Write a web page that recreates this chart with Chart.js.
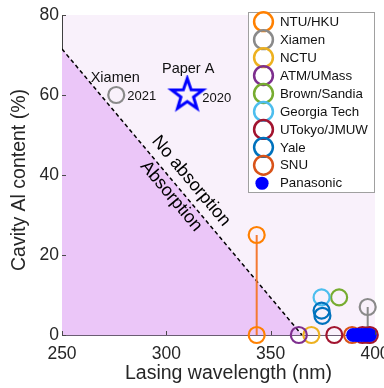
<!DOCTYPE html>
<html>
<head>
<meta charset="utf-8">
<script src="https://cdn.jsdelivr.net/npm/chart.js@4"></script>
<style>
  html, body { margin: 0; padding: 0; background: #ffffff; }
  canvas { display: block; }
</style>
</head>
<body>
<canvas id="chart" width="384" height="388"></canvas>
<script>
// Axis ticks
const xTicks = [250, 300, 350, 400];
const yTicks = [0, 20, 40, 60, 80];

// Groups shown in the legend
const seriesNames = ['NTU/HKU', 'Xiamen', 'NCTU', 'ATM/UMass', 'Brown/Sandia',
  'Georgia Tech', 'UTokyo/JMUW', 'Yale', 'SNU', 'Panasonic'];
const seriesColors = ['#ff8000', '#8a8a8a', '#edb120', '#7e2f8e', '#77ac30',
  '#4dbeee', '#a2142f', '#0072bd', '#d95319', '#0000ff'];

// Lasing wavelength (nm) and cavity Al content (%) per group
const ntuHkuWl = [343.3, 343.3];
const ntuHkuAl = [25, 0];
const xiamenWl = [396.5, 396.5];
const xiamenAl = [7, 0];
const nctuWl = [369.5];
const nctuAl = [0];
const atmUmassWl = [363.5];
const atmUmassAl = [0];
const brownSandiaWl = [382.8];
const brownSandiaAl = [9.4];
const georgiaTechWl = [374.4];
const georgiaTechAl = [9.4];
const utokyoWl = [380.5, 394, 397.5];
const utokyoAl = [0, 0, 0];
const yaleWl = [374.4, 374.8];
const yaleAl = [6.1, 4.8];
const snuWl = [389];
const snuAl = [0];
const panasonicWl = [389.5, 391.5, 393.5, 395.5, 397.5];
const panasonicAl = [0, 0, 0, 0, 0];

// Highlighted works
const xiamen2021Wl = [276];
const xiamen2021Al = [60];
const paperAWl = [310];
const paperAAl = [60];

// Absorption boundary
const boundaryWl = [250, 365];
const boundaryAl = [71.5, 0];

const FONT = '"Liberation Sans", Arial, Helvetica, sans-serif';
const TEXT = '#262626';

const pts = (xs, ys) => xs.map((x, i) => ({ x, y: ys[i] }));

function makeStar(R, r, lw, color) {
  const size = Math.ceil(2 * (R + lw) + 2);
  const c = document.createElement('canvas');
  c.width = size; c.height = size;
  const g = c.getContext('2d');
  g.translate(size / 2, size / 2);
  g.beginPath();
  for (let i = 0; i < 10; i++) {
    const rad = i % 2 === 0 ? R : r;
    const a = -Math.PI / 2 + i * Math.PI / 5;
    const px = rad * Math.cos(a), py = rad * Math.sin(a);
    if (i === 0) g.moveTo(px, py); else g.lineTo(px, py);
  }
  g.closePath();
  g.lineJoin = 'miter';
  g.lineWidth = lw;
  g.strokeStyle = color;
  g.stroke();
  return c;
}
const starImg = makeStar(16.5, 6.6, 3, '#0000ff');

function openCircles(label, data, color, order) {
  return {
    label, data, order, clip: false, showLine: false,
    pointStyle: 'circle', pointRadius: 8, pointBorderWidth: 2.2,
    pointBorderColor: color, pointBackgroundColor: 'rgba(0,0,0,0)'
  };
}
function stem(data, color, order) {
  return {
    type: 'line', data, order, clip: false, showLine: true,
    borderColor: color, borderWidth: 2, pointRadius: 0, fill: false
  };
}

const datasets = [
  {
    type: 'line', label: 'boundary', data: pts(boundaryWl, boundaryAl), order: 20,
    borderColor: '#000000', borderWidth: 1.5, borderDash: [4, 3],
    backgroundColor: '#ebc6f8', fill: 'origin', pointRadius: 0, tension: 0
  },
  stem(pts(ntuHkuWl, ntuHkuAl), '#f47a32', 15),
  stem(pts(xiamenWl, xiamenAl), '#8a8a8a', 15),
  openCircles('Xiamen', pts(xiamenWl, xiamenAl), seriesColors[1], 10),
  openCircles('ATM/UMass', pts(atmUmassWl, atmUmassAl), seriesColors[3], 9),
  openCircles('NCTU', pts(nctuWl, nctuAl), seriesColors[2], 9),
  openCircles('Georgia Tech', pts(georgiaTechWl, georgiaTechAl), seriesColors[5], 9),
  openCircles('Brown/Sandia', pts(brownSandiaWl, brownSandiaAl), seriesColors[4], 9),
  openCircles('Yale', pts(yaleWl, yaleAl), seriesColors[7], 8),
  openCircles('SNU', pts(snuWl, snuAl), seriesColors[8], 7),
  openCircles('UTokyo/JMUW', pts(utokyoWl, utokyoAl), seriesColors[6], 6),
  openCircles('NTU/HKU', pts(ntuHkuWl, ntuHkuAl), seriesColors[0], 5),
  {
    label: 'Panasonic', data: pts(panasonicWl, panasonicAl), order: 4, clip: false,
    pointStyle: 'circle', pointRadius: 7, pointBorderWidth: 0,
    pointBackgroundColor: '#0000ff', pointBorderColor: '#0000ff'
  },
  openCircles('Xiamen 2021', pts(xiamen2021Wl, xiamen2021Al), '#8a8a8a', 3),
  {
    label: 'Paper A', data: pts(paperAWl, paperAAl), order: 2, clip: false,
    pointStyle: starImg, pointRadius: 17
  }
];

const noPadding = () => ({ left: 0, right: 0, top: 0, bottom: 0 });

// Light plot background
const plotBackground = {
  id: 'plotBackground',
  beforeDraw(chart) {
    const { ctx, chartArea: a } = chart;
    ctx.save();
    ctx.fillStyle = '#f9f1fb';
    ctx.fillRect(a.left, a.top, a.right - a.left, a.bottom - a.top);
    ctx.restore();
  }
};

// Inward ticks, axis titles, annotations and legend
const overlay = {
  id: 'overlay',
  afterDraw(chart) {
    const { ctx, chartArea: a, scales: { x, y } } = chart;
    ctx.save();

    // inward tick marks
    ctx.strokeStyle = '#4a4a4a';
    ctx.lineWidth = 1;
    ctx.beginPath();
    xTicks.forEach(v => {
      const px = Math.round(x.getPixelForValue(v)) + 0.5;
      ctx.moveTo(px, a.bottom); ctx.lineTo(px, a.bottom - 4);
    });
    yTicks.forEach(v => {
      const py = Math.round(y.getPixelForValue(v)) + 0.5;
      ctx.moveTo(a.left, py); ctx.lineTo(a.left + 4, py);
    });
    ctx.stroke();

    // axis titles
    ctx.fillStyle = TEXT;
    ctx.font = '19.5px ' + FONT;
    ctx.textAlign = 'center';
    ctx.textBaseline = 'middle';
    ctx.fillText('Lasing wavelength (nm)', 228.5, 374);
    ctx.save();
    ctx.translate(20, 180);
    ctx.rotate(-Math.PI / 2);
    ctx.fillText('Cavity Al content (%)', 0, 0);
    ctx.restore();

    // rotated region labels along the boundary
    const p0 = { x: x.getPixelForValue(boundaryWl[0]), y: y.getPixelForValue(boundaryAl[0]) };
    const p1 = { x: x.getPixelForValue(boundaryWl[1]), y: y.getPixelForValue(boundaryAl[1]) };
    const ang = Math.atan2(p1.y - p0.y, p1.x - p0.x);
    const u = { x: Math.cos(ang), y: Math.sin(ang) };
    const n = { x: Math.sin(ang), y: -Math.cos(ang) };
    ctx.font = '18px ' + FONT;
    ctx.fillStyle = '#000000';
    const place = (txt, along, off) => {
      ctx.save();
      ctx.translate(p0.x + u.x * along + n.x * off, p0.y + u.y * along + n.y * off);
      ctx.rotate(ang);
      ctx.fillText(txt, 0, 0);
      ctx.restore();
    };
    place('No absorption', 184, 14);
    place('Absorption', 183, -11);

    // point annotations
    const xm = { x: x.getPixelForValue(xiamen2021Wl[0]), y: y.getPixelForValue(xiamen2021Al[0]) };
    const pa = { x: x.getPixelForValue(paperAWl[0]), y: y.getPixelForValue(paperAAl[0]) };
    ctx.fillStyle = '#111111';
    ctx.font = '14.5px ' + FONT;
    ctx.textAlign = 'center';
    ctx.fillText('Xiamen', xm.x - 1, xm.y - 17);
    ctx.fillText('Paper A', pa.x + 1, pa.y - 26);
    ctx.font = '13px ' + FONT;
    ctx.textAlign = 'left';
    ctx.fillText('2021', xm.x + 11, xm.y + 1);
    ctx.fillText('2020', pa.x + 15, pa.y + 3.5);

    // legend
    const box = { l: 248.5, t: 12.5, r: 374.5, b: 192.5 };
    ctx.fillStyle = '#ffffff';
    ctx.fillRect(box.l, box.t, box.r - box.l, box.b - box.t);
    ctx.strokeStyle = '#a0a0a0';
    ctx.lineWidth = 1;
    ctx.strokeRect(box.l, box.t, box.r - box.l, box.b - box.t);
    ctx.font = '13.3px ' + FONT;
    ctx.textAlign = 'left';
    ctx.textBaseline = 'middle';
    seriesNames.forEach((name, i) => {
      const cy = 21.7 + i * 17.95;
      const cx = 263.5;
      ctx.beginPath();
      if (name === 'Panasonic') {
        ctx.arc(cx - 1.5, cy, 6.6, 0, Math.PI * 2);
        ctx.fillStyle = seriesColors[i];
        ctx.fill();
      } else {
        ctx.arc(cx, cy, 9.4, 0, Math.PI * 2);
        ctx.strokeStyle = seriesColors[i];
        ctx.lineWidth = 2.5;
        ctx.stroke();
      }
      ctx.fillStyle = '#111111';
      ctx.fillText(name, 280, cy + 0.5);
    });

    ctx.restore();
  }
};

new Chart(document.getElementById('chart'), {
  type: 'scatter',
  data: { datasets },
  options: {
    responsive: false,
    animation: false,
    events: [],
    layout: { autoPadding: false, padding: { left: 0, right: 9, top: 15, bottom: 0 } },
    plugins: { legend: { display: false }, tooltip: { enabled: false } },
    scales: {
      x: {
        type: 'linear', min: 250, max: 400,
        afterBuildTicks: s => { s.ticks = xTicks.map(v => ({ value: v })); },
        grid: { display: false, drawTicks: false },
        border: { display: true, color: '#6b5d73', width: 1 },
        ticks: { font: { family: FONT, size: 17.5 }, color: TEXT, padding: 9, maxRotation: 0, autoSkip: false },
        afterFit: s => { s.height = 53; s.paddingLeft = 0; s.paddingRight = 0; s.getPadding = noPadding; }
      },
      y: {
        type: 'linear', min: 0, max: 80,
        afterBuildTicks: s => { s.ticks = yTicks.map(v => ({ value: v })); },
        grid: { display: false, drawTicks: false },
        border: { display: true, color: '#404040', width: 1 },
        ticks: { font: { family: FONT, size: 17.5 }, color: TEXT, padding: 3, autoSkip: false },
        afterFit: s => { s.width = 62; s.paddingTop = 0; s.paddingBottom = 0; s.getPadding = noPadding; }
      }
    }
  },
  plugins: [plotBackground, overlay]
});
</script>
</body>
</html>
